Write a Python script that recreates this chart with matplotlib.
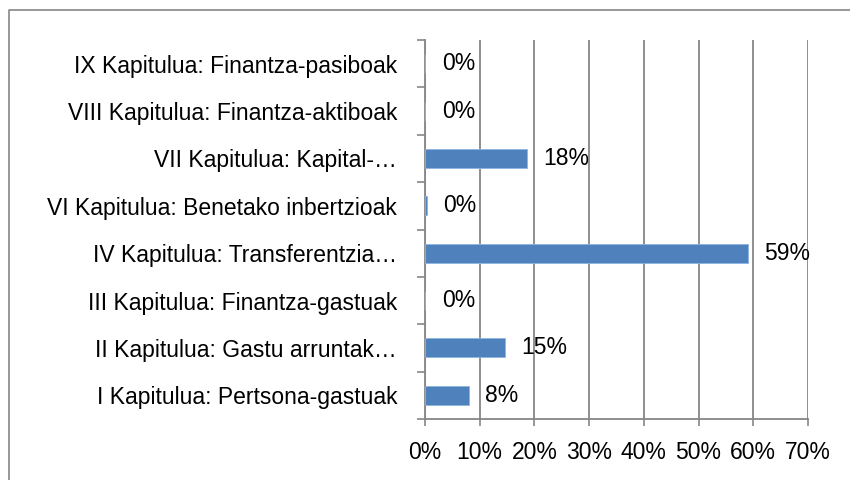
import numpy as np
import matplotlib.pyplot as plt
from matplotlib.lines import Line2D

# Data (bottom to top)
categories = ['I Kapitulua: Pertsona-gastuak',
              'II Kapitulua: Gastu arruntak…',
              'III Kapitulua: Finantza-gastuak',
              'IV Kapitulua: Transferentzia…',
              'VI Kapitulua: Benetako inbertzioak',
              'VII Kapitulua: Kapital-…',
              'VIII Kapitulua: Finantza-aktiboak',
              'IX Kapitulua: Finantza-pasiboak']
values = [8.0, 14.6, 0.0, 59.0, 0.3, 18.6, 0.0, 0.0]
labels = ['8%', '15%', '0%', '59%', '0%', '18%', '0%', '0%']
xticks = [0, 10, 20, 30, 40, 50, 60, 70]

plt.rcParams['font.family'] = ['Liberation Sans', 'DejaVu Sans']
grey = '#868686'
blue = '#4F81BD'
fs = 16.5

fig = plt.figure(figsize=(8.5, 4.8), dpi=100)
ax = fig.add_axes([425/850, 1 - 419/480, (808-425)/850, (419-40)/480])

y = np.arange(len(categories))
ax.barh(y, values, height=0.4, color=blue, edgecolor='#8EB4E3', linewidth=0.6, zorder=3)
for yi, v, lab in zip(y, values, labels):
    ax.annotate(lab, (v, yi), xytext=(12, 0), textcoords='offset points',
                va='center', ha='left', fontsize=fs, color='black')

ax.set_xlim(0, 70)
ax.set_ylim(-0.5, len(categories) - 0.5)
ax.set_xticks(xticks)
ax.set_xticklabels([f'{t}%' for t in xticks], fontsize=fs)
ax.set_yticks(y)
ax.set_yticklabels(categories, fontsize=fs)
ax.set_yticks(np.arange(len(categories) + 1) - 0.5, minor=True)
ax.tick_params(axis='y', which='major', length=0, pad=20)
ax.tick_params(axis='y', which='minor', length=6, color=grey, width=1.2)
ax.tick_params(axis='x', length=5, color=grey, width=1.2, pad=11)

ax.grid(axis='x', color=grey, linewidth=1.3, zorder=0)
ax.set_axisbelow(True)
for s in ['top', 'right']:
    ax.spines[s].set_visible(False)
for s in ['left', 'bottom']:
    ax.spines[s].set_color(grey)
    ax.spines[s].set_linewidth(1.3)

# outer chart border (only top and left edges fall inside the picture)
fig.lines.append(Line2D([9/850, 9/850, 1], [0, 1 - 10/480, 1 - 10/480],
                        transform=fig.transFigure, color=grey, linewidth=1.2))

fig.savefig('out.png', dpi=100)
